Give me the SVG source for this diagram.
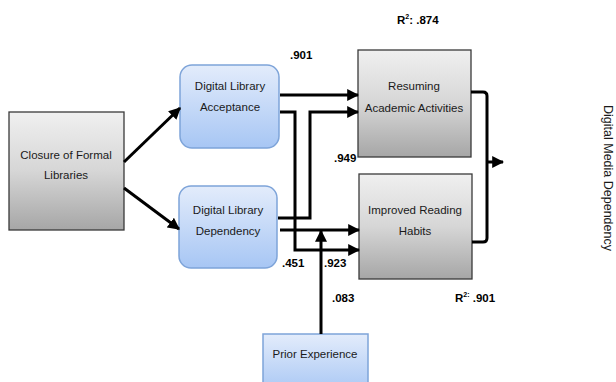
<svg xmlns="http://www.w3.org/2000/svg" width="616" height="382" viewBox="0 0 616 382">
<defs>
<linearGradient id="gray" x1="0" y1="0" x2="0" y2="1">
<stop offset="0" stop-color="#f0f0f0"/>
<stop offset="0.5" stop-color="#d6d6d6"/>
<stop offset="1" stop-color="#a6a6a6"/>
</linearGradient>
<linearGradient id="blue" x1="0" y1="0" x2="0" y2="1">
<stop offset="0" stop-color="#e3ecfb"/>
<stop offset="1" stop-color="#a7c6f4"/>
</linearGradient>
<marker id="arr" viewBox="0 0 10 10" refX="9" refY="5" markerWidth="4" markerHeight="4" orient="auto" markerUnits="strokeWidth">
<path d="M0,0 L10,5 L0,10 z" fill="#000"/>
</marker>
<style>
.g{fill:url(#gray);stroke:#3a3a3a;stroke-width:1.3}
.b{fill:url(#blue);stroke:#7ea4d9;stroke-width:1.5}
.t{font-family:"Liberation Sans",Arial,sans-serif;font-size:11.5px;fill:#1a1a1a;text-anchor:middle}
.n{font-family:"Liberation Sans",Arial,sans-serif;font-size:11.5px;font-weight:bold;fill:#000}
.c{fill:none;stroke:#000;stroke-width:3}
.ca{fill:none;stroke:#000;stroke-width:3;marker-end:url(#arr)}
</style>
</defs>
<rect width="616" height="382" fill="#fff"/>

<g id="closure">
<rect class="g" x="9" y="112" width="115" height="118"/>
<text class="t" x="66" y="159">Closure of Formal</text>
<text class="t" x="66" y="179">Libraries</text>
</g>
<g id="dla">
<rect class="b" x="180" y="65" width="99" height="83" rx="12"/>
<text class="t" x="230" y="90">Digital Library</text>
<text class="t" x="230" y="111">Acceptance</text>
</g>
<g id="dld">
<rect class="b" x="179" y="186" width="98" height="82" rx="12"/>
<text class="t" x="228" y="214">Digital Library</text>
<text class="t" x="228" y="235">Dependency</text>
</g>
<g id="resuming">
<rect class="g" x="358" y="50" width="113" height="107"/>
<text class="t" x="414" y="90">Resuming</text>
<text class="t" x="414" y="112">Academic Activities</text>
</g>
<g id="improved">
<rect class="g" x="359" y="174" width="113" height="105"/>
<text class="t" x="415" y="214">Improved Reading</text>
<text class="t" x="415" y="235">Habits</text>
</g>
<g id="prior">
<rect class="b" x="263" y="334" width="105" height="60"/>
<text class="t" x="315" y="358">Prior Experience</text>
</g>

<g id="connectors">
<path class="ca" d="M124,162 L180,108"/>
<path class="ca" d="M124,188 L179,229"/>
<path class="ca" d="M280,95 L358,95"/>
<path class="ca" d="M280,112 L295,112 L295,250 L359,250"/>
<path class="ca" d="M278,218 L310,218 L310,112 L358,112"/>
<path class="ca" d="M280,230 L359,230"/>
<path class="ca" d="M321,334 L321,231"/>
<path class="c" d="M471,92 L483,92 Q487,92 487,96 L487,238 Q487,242 483,242 L472,242"/>
<path class="ca" d="M487,162 L503,162"/>
</g>

<g id="labels">
<text class="n" x="397" y="24">R<tspan font-size="7" dy="-5">2</tspan><tspan dy="5">: .874</tspan></text>
<text class="n" x="290" y="59">.901</text>
<text class="n" x="334" y="162">.949</text>
<text class="n" x="282" y="267">.451</text>
<text class="n" x="324" y="267">.923</text>
<text class="n" x="332" y="302">.083</text>
<text class="n" x="455" y="302">R<tspan font-size="7" dy="-5">2:</tspan><tspan dy="5"> .901</tspan></text>
<text font-family="Liberation Sans, Arial, sans-serif" font-size="12.5" fill="#1a1a1a" text-anchor="middle" transform="translate(604,178) rotate(90)">Digital Media Dependency</text>
</g>
</svg>
